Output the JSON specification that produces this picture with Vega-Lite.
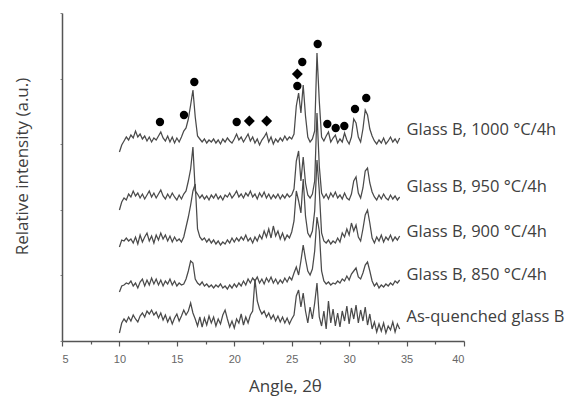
{
  "$schema": "https://vega.github.io/schema/vega-lite/v6.json",
  "width": 402,
  "height": 328,
  "autosize": "none",
  "padding": {"left": 62, "top": 13, "right": 111, "bottom": 55},
  "background": "white",
  "config": {
    "view": {"stroke": null},
    "axis": {"grid": false}
  },
  "resolve": {"axis": {"x": "independent"}},
  "layer": [
    {
      "data": {"values": [
        {"x":10.0,"a":189,"b":131,"c":94,"d":49,"e":8},
        {"x":10.2,"a":196,"b":139,"c":101,"d":55,"e":18},
        {"x":10.4,"a":200,"b":143,"c":100,"d":56,"e":22},
        {"x":10.6,"a":204,"b":141,"c":103,"d":58,"e":19},
        {"x":10.8,"a":201,"b":147,"c":100,"d":57,"e":24},
        {"x":11.0,"a":206,"b":144,"c":102,"d":60,"e":20},
        {"x":11.2,"a":203,"b":150,"c":98,"d":55,"e":26},
        {"x":11.4,"a":210,"b":145,"c":104,"d":58,"e":22},
        {"x":11.6,"a":204,"b":148,"c":97,"d":53,"e":19},
        {"x":11.8,"a":207,"b":143,"c":106,"d":59,"e":25},
        {"x":12.0,"a":202,"b":147,"c":99,"d":62,"e":28},
        {"x":12.2,"a":205,"b":142,"c":104,"d":55,"e":24},
        {"x":12.4,"a":200,"b":146,"c":108,"d":61,"e":30},
        {"x":12.6,"a":204,"b":150,"c":100,"d":56,"e":27},
        {"x":12.8,"a":199,"b":144,"c":105,"d":63,"e":31},
        {"x":13.0,"a":203,"b":148,"c":98,"d":57,"e":26},
        {"x":13.2,"a":201,"b":143,"c":106,"d":62,"e":29},
        {"x":13.4,"a":205,"b":147,"c":101,"d":56,"e":23},
        {"x":13.6,"a":209,"b":151,"c":108,"d":61,"e":28},
        {"x":13.8,"a":203,"b":145,"c":102,"d":55,"e":21},
        {"x":14.0,"a":200,"b":142,"c":106,"d":60,"e":26},
        {"x":14.2,"a":205,"b":147,"c":100,"d":57,"e":19},
        {"x":14.4,"a":199,"b":143,"c":105,"d":62,"e":24},
        {"x":14.6,"a":204,"b":148,"c":99,"d":56,"e":17},
        {"x":14.8,"a":198,"b":144,"c":104,"d":60,"e":23},
        {"x":15.0,"a":203,"b":141,"c":100,"d":55,"e":27},
        {"x":15.2,"a":199,"b":146,"c":102,"d":58,"e":20},
        {"x":15.4,"a":204,"b":142,"c":99,"d":56,"e":25},
        {"x":15.6,"a":210,"b":147,"c":104,"d":57,"e":31},
        {"x":15.8,"a":213,"b":150,"c":114,"d":62,"e":26},
        {"x":16.0,"a":222,"b":160,"c":124,"d":70,"e":30},
        {"x":16.2,"a":236,"b":172,"c":136,"d":80,"e":38},
        {"x":16.4,"a":251,"b":194,"c":150,"d":78,"e":28},
        {"x":16.6,"a":224,"b":150,"c":157,"d":62,"e":22},
        {"x":16.8,"a":205,"b":147,"c":112,"d":58,"e":15},
        {"x":17.0,"a":202,"b":143,"c":104,"d":56,"e":24},
        {"x":17.2,"a":199,"b":146,"c":101,"d":59,"e":14},
        {"x":17.4,"a":202,"b":142,"c":103,"d":55,"e":23},
        {"x":17.6,"a":198,"b":145,"c":99,"d":57,"e":16},
        {"x":17.8,"a":201,"b":141,"c":102,"d":54,"e":25},
        {"x":18.0,"a":199,"b":146,"c":98,"d":56,"e":18},
        {"x":18.2,"a":202,"b":143,"c":101,"d":53,"e":24},
        {"x":18.4,"a":198,"b":147,"c":97,"d":56,"e":15},
        {"x":18.6,"a":201,"b":142,"c":100,"d":54,"e":22},
        {"x":18.8,"a":197,"b":145,"c":96,"d":57,"e":17},
        {"x":19.0,"a":202,"b":141,"c":99,"d":53,"e":26},
        {"x":19.2,"a":199,"b":146,"c":97,"d":55,"e":31},
        {"x":19.4,"a":203,"b":144,"c":101,"d":52,"e":22},
        {"x":19.6,"a":200,"b":148,"c":98,"d":56,"e":14},
        {"x":19.8,"a":198,"b":143,"c":103,"d":53,"e":20},
        {"x":20.0,"a":202,"b":146,"c":99,"d":57,"e":13},
        {"x":20.2,"a":207,"b":150,"c":103,"d":54,"e":22},
        {"x":20.4,"a":201,"b":144,"c":100,"d":58,"e":18},
        {"x":20.6,"a":204,"b":147,"c":104,"d":55,"e":27},
        {"x":20.8,"a":199,"b":143,"c":101,"d":60,"e":16},
        {"x":21.0,"a":203,"b":148,"c":106,"d":56,"e":24},
        {"x":21.2,"a":207,"b":145,"c":100,"d":62,"e":18},
        {"x":21.4,"a":200,"b":150,"c":103,"d":58,"e":26},
        {"x":21.6,"a":204,"b":144,"c":98,"d":63,"e":30},
        {"x":21.8,"a":198,"b":147,"c":104,"d":60,"e":62},
        {"x":22.0,"a":202,"b":142,"c":100,"d":64,"e":40},
        {"x":22.2,"a":196,"b":148,"c":106,"d":58,"e":32},
        {"x":22.4,"a":201,"b":144,"c":102,"d":62,"e":27},
        {"x":22.6,"a":204,"b":149,"c":110,"d":57,"e":30},
        {"x":22.8,"a":208,"b":143,"c":104,"d":63,"e":24},
        {"x":23.0,"a":199,"b":147,"c":112,"d":59,"e":28},
        {"x":23.2,"a":204,"b":142,"c":103,"d":64,"e":22},
        {"x":23.4,"a":197,"b":146,"c":115,"d":58,"e":26},
        {"x":23.6,"a":202,"b":143,"c":105,"d":62,"e":20},
        {"x":23.8,"a":199,"b":147,"c":110,"d":57,"e":25},
        {"x":24.0,"a":203,"b":142,"c":102,"d":61,"e":19},
        {"x":24.2,"a":200,"b":146,"c":108,"d":58,"e":24},
        {"x":24.4,"a":205,"b":143,"c":101,"d":63,"e":18},
        {"x":24.6,"a":201,"b":147,"c":106,"d":59,"e":23},
        {"x":24.8,"a":204,"b":144,"c":103,"d":64,"e":17},
        {"x":25.0,"a":202,"b":146,"c":109,"d":61,"e":22},
        {"x":25.2,"a":207,"b":152,"c":120,"d":68,"e":26},
        {"x":25.4,"a":235,"b":180,"c":150,"d":74,"e":45},
        {"x":25.6,"a":248,"b":190,"c":140,"d":66,"e":51},
        {"x":25.8,"a":228,"b":160,"c":128,"d":80,"e":34},
        {"x":26.0,"a":256,"b":184,"c":162,"d":96,"e":48},
        {"x":26.2,"a":225,"b":158,"c":125,"d":82,"e":30},
        {"x":26.4,"a":204,"b":146,"c":108,"d":70,"e":18},
        {"x":26.6,"a":199,"b":143,"c":104,"d":66,"e":34},
        {"x":26.8,"a":202,"b":147,"c":110,"d":72,"e":22},
        {"x":27.0,"a":210,"b":160,"c":130,"d":90,"e":38},
        {"x":27.2,"a":288,"b":228,"c":181,"d":124,"e":58},
        {"x":27.4,"a":240,"b":175,"c":150,"d":110,"e":24},
        {"x":27.6,"a":204,"b":148,"c":108,"d":70,"e":15},
        {"x":27.8,"a":200,"b":143,"c":100,"d":60,"e":30},
        {"x":28.0,"a":205,"b":147,"c":98,"d":57,"e":12},
        {"x":28.2,"a":209,"b":142,"c":101,"d":59,"e":40},
        {"x":28.4,"a":199,"b":148,"c":97,"d":56,"e":18},
        {"x":28.6,"a":203,"b":144,"c":100,"d":58,"e":32},
        {"x":28.8,"a":206,"b":149,"c":98,"d":57,"e":15},
        {"x":29.0,"a":198,"b":143,"c":103,"d":60,"e":28},
        {"x":29.2,"a":202,"b":146,"c":99,"d":58,"e":14},
        {"x":29.4,"a":199,"b":142,"c":108,"d":62,"e":30},
        {"x":29.6,"a":208,"b":148,"c":104,"d":60,"e":20},
        {"x":29.8,"a":201,"b":143,"c":112,"d":65,"e":35},
        {"x":30.0,"a":197,"b":141,"c":106,"d":61,"e":17},
        {"x":30.2,"a":204,"b":147,"c":118,"d":67,"e":33},
        {"x":30.4,"a":222,"b":160,"c":110,"d":70,"e":22},
        {"x":30.6,"a":218,"b":164,"c":116,"d":73,"e":36},
        {"x":30.8,"a":204,"b":148,"c":104,"d":64,"e":18},
        {"x":31.0,"a":199,"b":143,"c":100,"d":62,"e":31},
        {"x":31.2,"a":212,"b":153,"c":112,"d":68,"e":20},
        {"x":31.4,"a":231,"b":170,"c":126,"d":76,"e":34},
        {"x":31.6,"a":226,"b":173,"c":131,"d":79,"e":16},
        {"x":31.8,"a":212,"b":158,"c":118,"d":70,"e":27},
        {"x":32.0,"a":205,"b":149,"c":103,"d":60,"e":12},
        {"x":32.2,"a":200,"b":144,"c":98,"d":55,"e":19},
        {"x":32.4,"a":197,"b":141,"c":104,"d":58,"e":9},
        {"x":32.6,"a":201,"b":146,"c":100,"d":53,"e":17},
        {"x":32.8,"a":198,"b":142,"c":106,"d":56,"e":10},
        {"x":33.0,"a":203,"b":147,"c":99,"d":54,"e":18},
        {"x":33.2,"a":197,"b":143,"c":104,"d":57,"e":8},
        {"x":33.4,"a":200,"b":141,"c":101,"d":55,"e":15},
        {"x":33.6,"a":204,"b":146,"c":106,"d":58,"e":11},
        {"x":33.8,"a":199,"b":142,"c":100,"d":56,"e":19},
        {"x":34.0,"a":202,"b":145,"c":104,"d":60,"e":9},
        {"x":34.2,"a":198,"b":141,"c":101,"d":58,"e":17},
        {"x":34.4,"a":203,"b":144,"c":105,"d":61,"e":12}
      ]},
      "transform": [{"fold": ["a", "b", "c", "d", "e"], "as": ["series", "h"]}],
      "mark": {"type": "line", "color": "#4a4a4a", "strokeWidth": 1.25, "interpolate": "linear"},
      "encoding": {
        "x": {
          "field": "x", "type": "quantitative",
          "scale": {"domain": [5, 40], "nice": false, "zero": false},
          "axis": {
            "orient": "bottom",
            "values": [5, 10, 15, 20, 25, 30, 35, 40],
            "format": "d",
            "labelFont": "Liberation Sans", "labelFontSize": 11, "labelColor": "#666666",
            "labelPadding": 7,
            "tickSize": 5, "tickColor": "#555555", "tickWidth": 1.2,
            "domainColor": "#555555", "domainWidth": 1.5,
            "title": "Angle, 2θ",
            "titleFont": "Open Sans", "titleFontSize": 17, "titleFontWeight": "normal",
            "titleColor": "#404040", "titlePadding": 14, "titleX": 223
          }
        },
        "y": {
          "field": "h", "type": "quantitative",
          "scale": {"domain": [0, 328], "nice": false, "zero": false},
          "axis": {
            "values": [0, 32.8, 65.6, 98.4, 131.2, 164, 196.8, 229.6, 262.4, 295.2, 328],
            "labels": false,
            "tickSize": 2, "tickColor": "#888888", "tickWidth": 1,
            "domainColor": "#555555", "domainWidth": 1.5,
            "title": "Relative intensity (a.u.)",
            "titleFont": "Open Sans", "titleFontSize": 17, "titleFontWeight": "normal",
            "titleColor": "#404040", "titlePadding": 28, "titleY": 153
          }
        },
        "detail": {"field": "series"}
      }
    },
    {
      "data": {"values": [
        {"x": 13.53, "h": 219, "shape": "circle"},
        {"x": 15.62, "h": 226, "shape": "circle"},
        {"x": 16.52, "h": 259, "shape": "circle"},
        {"x": 20.21, "h": 219, "shape": "circle"},
        {"x": 21.31, "h": 220, "shape": "diamond"},
        {"x": 22.82, "h": 220, "shape": "diamond"},
        {"x": 25.49, "h": 267, "shape": "diamond"},
        {"x": 25.49, "h": 255, "shape": "circle"},
        {"x": 25.92, "h": 279, "shape": "circle"},
        {"x": 27.26, "h": 297, "shape": "circle"},
        {"x": 28.10, "h": 217, "shape": "circle"},
        {"x": 28.83, "h": 213, "shape": "circle"},
        {"x": 29.58, "h": 215, "shape": "circle"},
        {"x": 30.51, "h": 232, "shape": "circle"},
        {"x": 31.49, "h": 243, "shape": "circle"}
      ]},
      "mark": {"type": "point", "filled": true, "color": "#000000", "opacity": 1},
      "encoding": {
        "x": {
          "field": "x", "type": "quantitative",
          "axis": {
            "orient": "bottom",
            "values": [7.5, 12.5, 17.5, 22.5, 27.5, 32.5, 37.5],
            "labels": false, "domain": false,
            "tickSize": 3, "tickColor": "#555555", "tickWidth": 1.2,
            "title": null
          }
        },
        "y": {"field": "h", "type": "quantitative"},
        "shape": {
          "field": "shape", "type": "nominal",
          "scale": {"domain": ["circle", "diamond"], "range": ["circle", "diamond"]},
          "legend": null
        },
        "size": {
          "field": "shape", "type": "nominal",
          "scale": {"domain": ["circle", "diamond"], "range": [70, 120]},
          "legend": null
        }
      }
    },
    {
      "data": {"values": [
        {"x": 35.0, "h": 211, "label": "Glass B, 1000 °C/4h"},
        {"x": 35.0, "h": 154, "label": "Glass B, 950 °C/4h"},
        {"x": 35.0, "h": 109, "label": "Glass B, 900 °C/4h"},
        {"x": 35.0, "h": 66, "label": "Glass B, 850 °C/4h"},
        {"x": 35.0, "h": 24, "label": "As-quenched glass B"}
      ]},
      "mark": {"type": "text", "align": "left", "baseline": "middle", "font": "Open Sans", "fontSize": 16.5, "color": "#404040"},
      "encoding": {
        "x": {"field": "x", "type": "quantitative", "axis": null},
        "y": {"field": "h", "type": "quantitative"},
        "text": {"field": "label"}
      }
    }
  ]
}
